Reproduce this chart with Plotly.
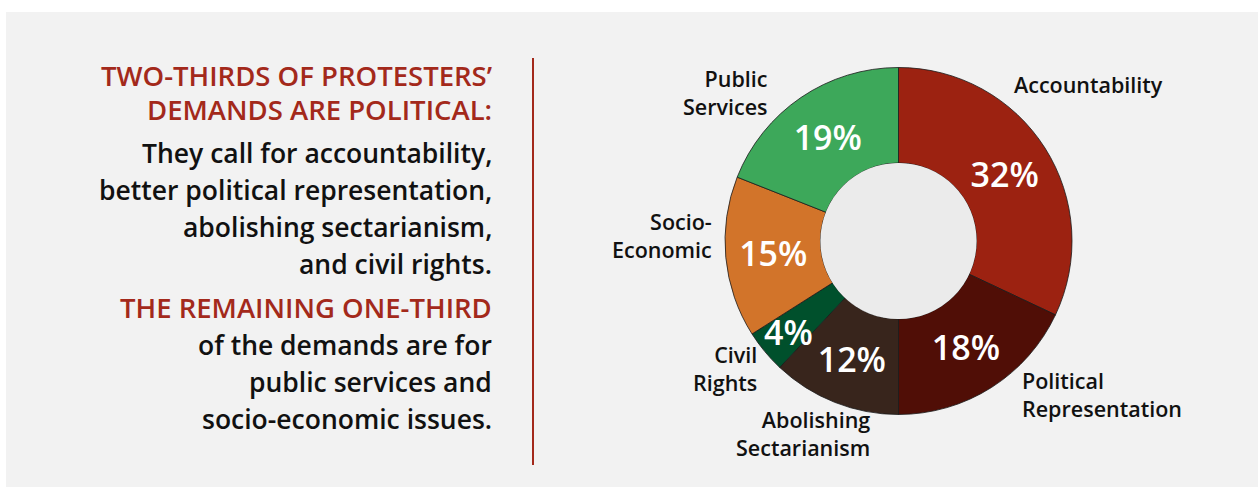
import math
import plotly.graph_objects as go

# ---- data ----
categories = ["Accountability", "Political Representation", "Abolishing Sectarianism",
              "Civil Rights", "Socio-Economic", "Public Services"]
label_text = ["Accountability", "Political<br>Representation", "Abolishing<br>Sectarianism",
              "Civil<br>Rights", "Socio-<br>Economic", "Public<br>Services"]
values = [32, 18, 12, 4, 15, 19]
colors = ["#9c2211", "#500e06", "#38251c", "#00502c", "#d2742a", "#3da85a"]

title_lines = ["TWO-THIRDS OF PROTESTERS’", "DEMANDS ARE POLITICAL:"]
body1_lines = ["They call for accountability,", "better political representation,",
               "abolishing sectarianism,", "and civil rights."]
title2_lines = ["THE REMAINING ONE-THIRD"]
body2_lines = ["of the demands are for", "public services and", "socio-economic issues."]

W, H = 1258, 487
FONT = "Open Sans"
RED = "#a3291b"
BG = "#f2f2f2"
DARK = "#111111"

# pie geometry (pixels)
cx, cy, R = 898.5, 241, 173.5
hole = 0.45
SMALL = 5  # slices below this share get their label placed by annotation

def px(x):
    return x / W

def py(y):
    return (H - y) / H

texts = [f"{v}%" if v >= SMALL else "" for v in values]

fig = go.Figure()
fig.add_trace(go.Pie(
    labels=categories, values=values, sort=False, direction="clockwise", rotation=0,
    hole=hole,
    marker=dict(colors=colors, line=dict(color="#1a1a1a", width=0.8)),
    text=texts, textinfo="text", textposition="inside", insidetextorientation="horizontal",
    textfont=dict(family=FONT, size=34, color="white", weight=600),
    domain=dict(x=[px(cx - R), px(cx + R)], y=[py(cy + R), py(cy - R)]),
    showlegend=False, hoverinfo="label+percent",
))

shapes = [
    dict(type="rect", xref="paper", yref="paper", x0=px(6), x1=1, y0=0, y1=py(12),
         fillcolor=BG, line=dict(width=0), layer="below"),
    dict(type="line", xref="paper", yref="paper", x0=px(533), x1=px(533), y0=py(58), y1=py(465),
         line=dict(color=RED, width=2)),
    dict(type="circle", xref="paper", yref="paper",
         x0=px(cx - R * hole), x1=px(cx + R * hole), y0=py(cy + R * hole), y1=py(cy - R * hole),
         fillcolor="#ebebeb", line=dict(width=0), layer="above"),
]

annotations = []

# percent labels for thin slices, placed at the slice's mid-angle
total = sum(values)
cum = 0
for v in values:
    mid = (cum + v / 2) / total * 2 * math.pi
    cum += v
    if v < SMALL:
        rr = R * 0.82
        annotations.append(dict(text=f"{v}%", x=px(cx + rr * math.sin(mid)), y=py(cy - rr * math.cos(mid)),
                                xref="paper", yref="paper", showarrow=False,
                                xanchor="center", yanchor="middle",
                                font=dict(family=FONT, size=34, color="white", weight=600)))

# outside labels: (x, y-centre, anchor)
label_pos = [
    (1012, 85, "left"),
    (1020, 394, "left"),
    (872, 433, "right"),
    (759, 368, "right"),
    (714, 235, "right"),
    (770, 92, "right"),
]
for txt, (x, y, anc) in zip(label_text, label_pos):
    annotations.append(dict(text=txt, x=px(x), y=py(y), xref="paper", yref="paper",
                            xanchor=anc, yanchor="middle", align=anc, showarrow=False,
                            font=dict(family=FONT, size=21.5, color=DARK, weight=600)))

def add_lines(lines, ys, color, size):
    for t, y in zip(lines, ys):
        annotations.append(dict(text=t, x=px(494), y=py(y), xref="paper", yref="paper",
                                xanchor="right", yanchor="middle", align="right", showarrow=False,
                                font=dict(family=FONT, size=size, color=color, weight=600)))

add_lines(title_lines, [76, 109], RED, 27.5)
add_lines(body1_lines, [153, 190, 227, 264], DARK, 26.5)
add_lines(title2_lines, [307], RED, 27.5)
add_lines(body2_lines, [345, 382, 419], DARK, 26.5)

fig.update_layout(
    width=W, height=H, margin=dict(l=0, r=0, t=0, b=0),
    paper_bgcolor="white", plot_bgcolor="white",
    shapes=shapes, annotations=annotations,
)

fig.write_html("out.html", config={"displayModeBar": False},
               post_script="document.body.style.margin='0px';")
